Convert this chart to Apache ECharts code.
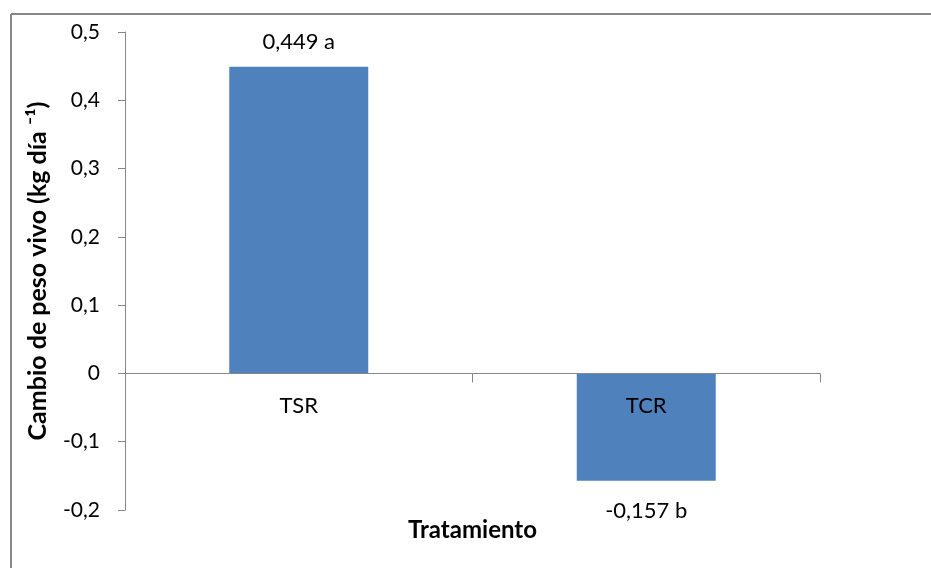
<!DOCTYPE html>
<html>
<head>
<meta charset="utf-8">
<script src="https://cdn.jsdelivr.net/npm/echarts@6/dist/echarts.min.js"></script>
<style>html,body{margin:0;padding:0;background:#fff}#c{width:931px;height:568px}</style>
</head>
<body>
<div id="c"></div>
<script>
const categories = ['TSR', 'TCR'];
const values = [0.449, -0.157];
const valueLabels = ['0,449 a', '-0,157 b'];
const yTicks = { min: -0.2, max: 0.5, interval: 0.1 };
const yTitle = 'Cambio de peso vivo (kg día \u207B\u00B9)';
const xTitle = 'Tratamiento';

const FONT = 'Lato';
const chart = echarts.init(document.getElementById('c'), null, { renderer: 'canvas' });
chart.setOption({
  animation: false,
  backgroundColor: '#fff',
  textStyle: { fontFamily: FONT },
  graphic: [
    { type: 'line', shape: { x1: 11, y1: 14, x2: 931, y2: 14 }, style: { stroke: '#878787', lineWidth: 2 } },
    { type: 'line', shape: { x1: 11, y1: 14, x2: 11, y2: 568 }, style: { stroke: '#878787', lineWidth: 2 } }
  ],
  grid: { left: 125, right: 111, top: 32, bottom: 58, containLabel: false, outerBoundsMode: 'none' },
  xAxis: {
    type: 'category',
    data: categories,
    z: 10,
    name: xTitle,
    nameLocation: 'middle',
    nameGap: 8,
    nameTextStyle: { fontFamily: FONT, fontWeight: 'bold', fontSize: 24, color: '#000', verticalAlign: 'top' },
    axisLine: { onZero: true, lineStyle: { color: '#868686', width: 1 } },
    axisTick: { show: true, length: 9, lineStyle: { color: '#868686' } },
    axisLabel: { fontFamily: FONT, fontSize: 22, color: '#000', margin: -115 },
    splitLine: { show: false }
  },
  yAxis: {
    type: 'value',
    min: yTicks.min,
    max: yTicks.max,
    interval: yTicks.interval,
    name: yTitle,
    nameLocation: 'middle',
    nameGap: 75,
    nameTextStyle: { fontFamily: FONT, fontWeight: 'bold', fontSize: 25, color: '#000' },
    axisLine: { show: true, lineStyle: { color: '#868686', width: 1 } },
    axisTick: { show: true, length: 7, lineStyle: { color: '#868686' } },
    axisLabel: {
      fontFamily: FONT, fontSize: 21, color: '#000', margin: 25,
      formatter: v => Math.abs(v) < 1e-9 ? '0' : v.toFixed(1).replace('.', ',')
    },
    splitLine: { show: false }
  },
  series: [{
    type: 'bar',
    barWidth: '40%',
    itemStyle: { color: '#4F81BD' },
    data: values.map((v, i) => ({
      value: v,
      label: {
        show: true,
        position: v >= 0 ? 'top' : 'bottom',
        distance: v >= 0 ? 14 : 19,
        formatter: valueLabels[i],
        fontFamily: FONT, fontSize: 22, color: '#000'
      }
    }))
  }]
});
</script>
</body>
</html>
